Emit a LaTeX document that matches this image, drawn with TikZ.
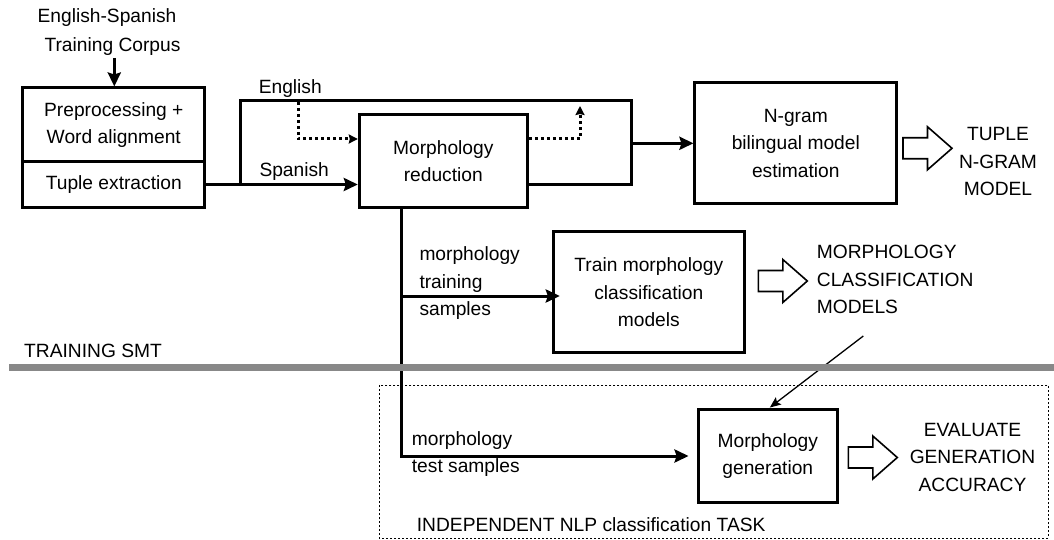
\documentclass[tikz,border=0pt]{standalone}
\usepackage{fontspec}
\setmainfont{Liberation Sans}
\usetikzlibrary{arrows.meta,calc}
\definecolor{sepgray}{HTML}{888888}
\begin{document}
\begin{tikzpicture}[x=1pt,y=-1pt,
  every node/.style={font=\fontsize{19.2}{27.5}\selectfont, inner sep=0pt},
  box/.style={draw, line width=3pt, fill=white, align=center},
  conn/.style={line width=3pt},
  arr/.style={conn, -{Stealth[length=14pt,width=13pt,inset=2pt]}},
  dotarr/.style={line width=3pt, dash pattern=on 3pt off 3pt, -{Stealth[length=9pt,width=9pt,inset=1pt]}},
  thinarr/.style={line width=1.3pt, -{Stealth[length=11pt,width=9pt,inset=2pt]}},
  lbl/.style={align=left, anchor=west},
  ctr/.style={align=center},
  hollow/.pic={\draw[line width=1.6pt, line join=miter, fill=white]
     (0,-10.5) -- (24.5,-10.5) -- (24.5,-21.5) -- (49,0) -- (24.5,21.5)
     -- (24.5,10.5) -- (0,10.5) -- cycle;}
]
\useasboundingbox (0,0) rectangle (1054,540);

% processing blocks
\node[box, minimum width=182pt, minimum height=74pt] (pp) at (113.8,125) {Preprocessing +\\Word alignment};
\node[box, minimum width=182pt, minimum height=45pt] (tx) at (113.8,184.5) {Tuple extraction};
\node[box, minimum width=168pt, minimum height=92pt] (mr) at (443.3,161) {Morphology\\reduction};
\node[box, minimum width=201.7pt, minimum height=121.3pt] (ng) at (795.8,143.3) {N-gram\\bilingual model\\estimation};
\node[box, minimum width=191pt, minimum height=121pt] (tr) at (648.8,292.2) {Train morphology\\classification\\models};
\node[box, line width=3.5pt, minimum width=139pt, minimum height=93.4pt] (mg) at (767.8,456) {Morphology\\generation};

% corpus input
\node (c1) at (107,18) {English-Spanish};
\node (c2) at (112.5,47) {Training Corpus};
\coordinate (c0) at (114.3,58);
\draw[arr] (c0) -- (c0 |- pp.north);

% Spanish side into morphology reduction
\draw[arr] (tx.east) -- (tx.east -| mr.west);
\node (es) at (294.2,171.7) {Spanish};

% English side bypassing the reduction
\coordinate (j1) at (240,184.5);
\coordinate (et) at (631.7,100.7);
\coordinate (eb) at (631.7,185);
\draw[conn] (j1) |- (et) -- (eb) -- (eb -| mr.east);
\node (en) at (290.3,88.3) {English};
\draw[arr] (ng.west -| et) -- (ng.west);

% dotted English alignment links
\coordinate (dy) at (0,139);
\coordinate (d1) at (298.3,102);
\coordinate (d2) at (580,106);
\draw[dotarr] (d1) |- (mr.west |- dy);
\draw[dotarr] (mr.east |- dy) -| (d2);

% tuple n-gram output
\pic at (903,148.3) {hollow};
\node[ctr] (tng) at (998,161.6) {TUPLE\\N-GRAM\\MODEL};

% morphology samples branch
\coordinate (vx) at (401.7,0);
\coordinate (ty) at (0,296);
\draw[arr, shorten >=8pt] (mr.south -| vx) |- (mg.west);
\draw[arr] (vx |- ty) -- ([xshift=8pt]tr.west |- ty);
\node[lbl] (mts) at (419.3,283.3) {morphology\\training\\samples};
\node[lbl] (mte) at (411.7,453.9) {morphology\\test samples};

% classification models output
\pic at (758.3,281) {hollow};
\node[lbl] (mcm) at (816.7,279.5) {MORPHOLOGY\\CLASSIFICATION\\MODELS};
\coordinate (dg) at (863.3,336);
\draw[thinarr] (dg) -- ([xshift=2pt]mg.north);

% separator between training and evaluation
\draw[line width=6.5pt, sepgray] (9.3,367.3) -- (1054,367.3);
\node[lbl] (tsmt) at (24,350.7) {TRAINING SMT};

% independent classification task frame
\draw[line width=1pt, dash pattern=on 2pt off 2pt] (379.3,385) rectangle (1048.3,538);
\node[lbl] (ind) at (416.7,525) {INDEPENDENT NLP classification TASK};

% evaluation output
\pic at (848.3,457.5) {hollow};
\node[ctr] (ega) at (972.5,457) {EVALUATE\\GENERATION\\ACCURACY};
\end{tikzpicture}
\end{document}
